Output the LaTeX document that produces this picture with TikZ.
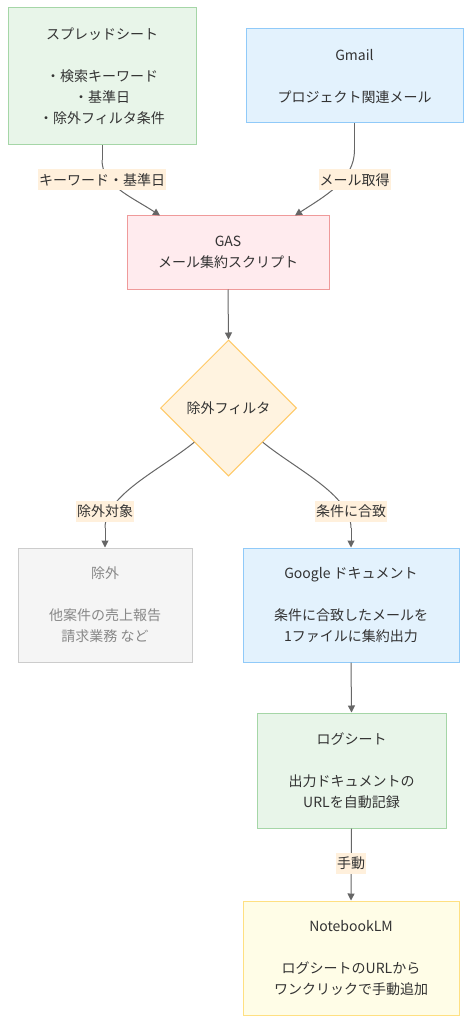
\documentclass[tikz,border=0pt]{standalone}
\usepackage{fontspec}
\setmainfont{Noto Sans CJK JP}
\usetikzlibrary{shapes.geometric,arrows.meta,calc}
\definecolor{grfill}{HTML}{E8F5E9}
\definecolor{grline}{HTML}{A5D6A7}
\definecolor{blfill}{HTML}{E3F2FD}
\definecolor{blline}{HTML}{90CAF9}
\definecolor{pkfill}{HTML}{FFEBEE}
\definecolor{pkline}{HTML}{EF9A9A}
\definecolor{orfill}{HTML}{FFF3E0}
\definecolor{orline}{HTML}{FFC966}
\definecolor{gyfill}{HTML}{F5F5F5}
\definecolor{gyline}{HTML}{CCCCCC}
\definecolor{gytext}{HTML}{888888}
\definecolor{ylfill}{HTML}{FFFDE7}
\definecolor{ylline}{HTML}{FFE082}
\definecolor{lblbg}{HTML}{FFF0DC}
\definecolor{edgec}{HTML}{666666}
\definecolor{txt}{HTML}{333333}
\begin{document}
\begin{tikzpicture}[x=1pt,y=-1pt,
  box/.style={draw, line width=1pt, rectangle, align=center, inner sep=0pt,
    font=\fontsize{14}{21}\selectfont, text=txt},
  edge/.style={draw=edgec, line width=1pt, -{Triangle[length=7pt,width=7pt]}},
  plain/.style={draw=edgec, line width=1pt},
  lbl/.style={fill=lblbg, inner xsep=1pt, inner ysep=0pt, minimum height=21pt,
    font=\fontsize{14}{21}\selectfont, text=txt}
]
\useasboundingbox[fill=white] (0,0) rectangle (471,1024);

\node[box, fill=grfill, draw=grline, minimum width=188pt, minimum height=137pt] (sp) at (102,76.5)
  {スプレッドシート\\[21pt]・検索キーワード\\・基準日\\・除外フィルタ条件};
\node[box, fill=blfill, draw=blline, minimum width=217pt, minimum height=94pt] (gm) at (354.5,76)
  {Gmail\\[21pt]プロジェクト関連メール};
\node[box, fill=pkfill, draw=pkline, minimum width=202pt, minimum height=73pt] (gas) at (228,252.5)
  {GAS\\メール集約スクリプト};
\node[diamond, aspect=1, draw=orline, fill=orfill, line width=1pt, inner sep=0pt,
  minimum width=136pt, minimum height=136pt, font=\fontsize{14}{21}\selectfont, text=txt] (dia) at (228.5,408)
  {除外フィルタ};
\node[box, fill=gyfill, draw=gyline, text=gytext, minimum width=174pt, minimum height=114pt] (ex) at (105,605)
  {除外\\[21pt]他案件の売上報告\\請求業務 など};
\node[box, fill=blfill, draw=blline, minimum width=216pt, minimum height=114pt] (gd) at (351,605)
  {Google ドキュメント\\[21pt]条件に合致したメールを\\1ファイルに集約出力};
\node[box, fill=grfill, draw=grline, minimum width=189pt, minimum height=115pt] (log) at (351.5,770.5)
  {ログシート\\[21pt]出力ドキュメントの\\URLを自動記録};
\node[box, fill=ylfill, draw=ylline, minimum width=216pt, minimum height=114pt] (nb) at (351,958)
  {NotebookLM\\[21pt]ログシートのURLから\\ワンクリックで手動追加};

\coordinate (c1) at (102,160);
\coordinate (c2) at (354.5,150);
\draw[plain] (sp.south) -- (c1);
\draw[edge] (c1) .. controls (102,185) and (130,196) .. ($(gas.north)+(-68,0)$);
\draw[plain] (gm.south) -- (c2);
\draw[edge] (c2) .. controls (354.5,180) and (325,196) .. ($(gas.north)+(67,0)$);
\draw[edge] (gas.south) -- (dia.north);
\coordinate (c3) at (105,528);
\coordinate (c4) at (351,528);
\draw[plain] (dia.south west) .. controls (160,470) and (105,495) .. (c3);
\draw[edge] (c3) -- (ex.north);
\draw[plain] (dia.south east) .. controls (297,470) and (351,495) .. (c4);
\draw[edge] (c4) -- (gd.north);
\draw[edge] (gd.south) -- (log.north);
\draw[edge] (log.south) -- (nb.north);

\node[lbl] (l1) at (102,180) {キーワード・基準日};
\node[lbl] (l2) at (354.5,180) {メール取得};
\node[lbl] (l3) at (105,511) {除外対象};
\node[lbl] (l4) at (351,511) {条件に合致};
\node[lbl] (l5) at (351,863) {手動};
\end{tikzpicture}
\end{document}
